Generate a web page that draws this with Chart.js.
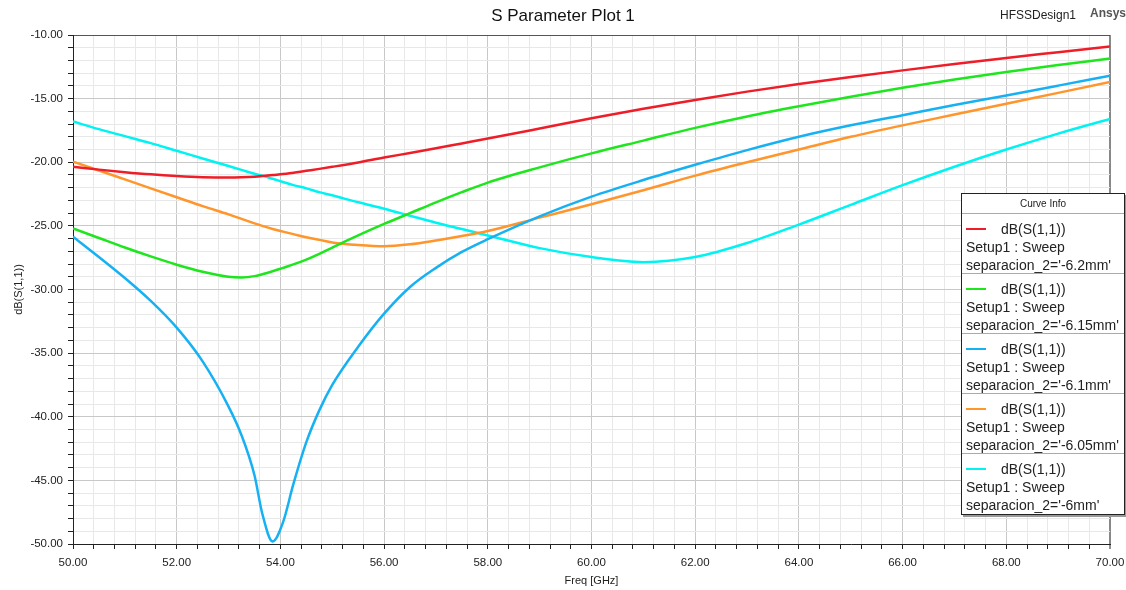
<!DOCTYPE html>
<html>
<head>
<meta charset="utf-8">
<script src="https://cdn.jsdelivr.net/npm/chart.js@4.4.0/dist/chart.umd.min.js"></script>
<style>
  body { margin: 0; background: #fff; font-family: "Liberation Sans", Arial, sans-serif; }
  #wrap { position: relative; width: 1126px; height: 590px; overflow: hidden; }
  #chart { position: absolute; left: 0; top: 0; }
  #title { position: absolute; left: 0; top: 6px; width: 1126px; text-align: center; font-size: 17px; color: #111; }
  #design { position: absolute; left: 1000px; top: 8px; font-size: 12px; color: #222; }
  #brand { position: absolute; left: 1090px; top: 6px; font-size: 12px; font-weight: bold; color: #555; }
  #legend { position: absolute; left: 961px; top: 193px; width: 162px; background: #fff;
            border: 1px solid #222; box-shadow: 2px 2px 0 #999; }
  #legend .head { height: 19px; line-height: 19px; font-size: 10px; text-align: center; color: #222;
                  border-bottom: 1px solid #aaa; }
  #legend .item { padding: 6px 0 0 4px; box-sizing: border-box; height: 60px;
                  font-size: 14px; line-height: 18px; color: #222; border-bottom: 1px solid #aaa; }
  #legend .item:last-child { border-bottom: none; }
  #legend .sw { display: inline-block; width: 20px; height: 2px; vertical-align: 4px; margin-right: 15px; }
</style>
</head>
<body>
<div id="wrap">
  <canvas id="chart" width="1126" height="590"></canvas>
  <div id="title">S Parameter Plot 1</div>
  <div id="design">HFSSDesign1</div>
  <div id="brand">Ansys</div>
  <div id="legend"><div class="head">Curve Info</div></div>
</div>
<script>
// frequency points (GHz), finer around the deep dip
const freq = [50, 50.5, 51, 51.5, 52, 52.5, 53, 53.25, 53.5, 53.65, 53.85, 54.05, 54.25, 54.5, 54.75,
  55, 55.5, 56, 56.5, 57, 57.5, 58, 59, 60, 61, 62, 63, 64, 65, 66, 67, 68, 69, 70];

// dB(S(1,1)) for each sweep value
const s11_620 = [-20.35, -20.58, -20.78, -20.95, -21.08, -21.17, -21.2, -21.18, -21.13, -21.08, -21.0, -20.93, -20.82, -20.67, -20.52,
  -20.36, -20.02, -19.63, -19.27, -18.9, -18.52, -18.14, -17.35, -16.55, -15.8, -15.1, -14.45, -13.85, -13.3, -12.78, -12.28, -11.8, -11.35, -10.9];
const s11_615 = [-25.2, -25.95, -26.7, -27.4, -28.05, -28.6, -29.0, -29.05, -28.95, -28.8, -28.57, -28.3, -28.03, -27.65, -27.2,
  -26.7, -25.75, -24.85, -24.0, -23.15, -22.35, -21.6, -20.4, -19.3, -18.3, -17.3, -16.4, -15.6, -14.85, -14.15, -13.5, -12.9, -12.35, -11.85];
const s11_610 = [-25.85, -27.45, -29.1, -30.9, -33.0, -35.65, -39.2, -41.45, -44.6, -47.6, -49.8, -48.3, -45.3, -42.0, -39.5,
  -37.5, -34.5, -31.9, -29.8, -28.3, -27.05, -26.05, -24.25, -22.7, -21.4, -20.2, -19.05, -18.0, -17.1, -16.3, -15.5, -14.75, -13.98, -13.2];
const s11_605 = [-19.95, -20.65, -21.35, -22.05, -22.75, -23.45, -24.1, -24.45, -24.8, -25.0, -25.25, -25.45, -25.65, -25.9, -26.1,
  -26.3, -26.5, -26.6, -26.45, -26.15, -25.8, -25.4, -24.35, -23.3, -22.2, -21.05, -20.0, -19.0, -18.0, -17.1, -16.25, -15.4, -14.55, -13.7];
const s11_600 = [-16.8, -17.4, -17.95, -18.5, -19.1, -19.7, -20.3, -20.6, -20.9, -21.05, -21.3, -21.55, -21.8, -22.05, -22.35,
  -22.6, -23.15, -23.65, -24.2, -24.75, -25.25, -25.75, -26.75, -27.45, -27.85, -27.45, -26.35, -24.9, -23.35, -21.8, -20.35, -19.0, -17.75, -16.6];

const seriesValues = [s11_620, s11_615, s11_610, s11_605, s11_600];
const seriesParams = ["separacion_2='-6.2mm'", "separacion_2='-6.15mm'", "separacion_2='-6.1mm'",
  "separacion_2='-6.05mm'", "separacion_2='-6mm'"];
const seriesColors = ["#ee1d27", "#1de61d", "#16b1f2", "#ff952b", "#00f3f3"];
const curveName = "dB(S(1,1))";
const setupName = "Setup1 : Sweep";

// tick labels
const xTickLabels = ["50.00", "52.00", "54.00", "56.00", "58.00", "60.00", "62.00", "64.00", "66.00", "68.00", "70.00"];
const yTickLabels = ["-10.00", "-15.00", "-20.00", "-25.00", "-30.00", "-35.00", "-40.00", "-45.00", "-50.00"];

// minor tick positions: 0.4 GHz and 1 dB
const xTicks = [];
for (let i = 0; i <= 50; i++) xTicks.push(+(50 + i * 0.4).toFixed(1));
const yTicks = [];
for (let i = 0; i <= 40; i++) yTicks.push(-50 + i);

function labelFor(list, v) {
  const hit = list.find((l) => Math.abs(parseFloat(l) - v) < 1e-6);
  return hit === undefined ? "" : hit;
}

const tickFont = { family: "Liberation Sans", size: 11.5 };

const datasets = seriesValues.map((vals, i) => ({
  label: seriesParams[i],
  data: freq.map((f, j) => ({ x: f, y: vals[j] })),
  borderColor: seriesColors[i],
  backgroundColor: seriesColors[i],
  borderWidth: 2.5,
  pointRadius: 0,
  cubicInterpolationMode: "monotone",
}));

const chart = new Chart(document.getElementById("chart"), {
  type: "line",
  data: { datasets: datasets },
  options: {
    responsive: false,
    animation: false,
    layout: { padding: { top: 35, right: 16, left: 0, bottom: 0 } },
    plugins: { legend: { display: false }, tooltip: { enabled: false } },
    scales: {
      x: {
        type: "linear",
        min: 50,
        max: 70,
        afterFit: (scale) => {
          scale.height = 46;
          // keep the plot edge fixed, labels may overhang into the padding
          scale.paddingLeft = 0;
          scale.paddingRight = 0;
        },
        afterBuildTicks: (scale) => { scale.ticks = xTicks.map((v) => ({ value: v })); },
        ticks: {
          autoSkip: false,
          maxRotation: 0,
          padding: 7,
          color: "#222",
          font: tickFont,
          callback: (v) => labelFor(xTickLabels, v),
        },
        grid: {
          color: (ctx) => {
            const v = ctx.tick.value;
            if (Math.abs(v - 70) < 1e-6) return "#888";
            return labelFor(xTickLabels, v) ? "#c8c8c8" : "#e8e8e8";
          },
          lineWidth: (ctx) => (Math.abs(ctx.tick.value - 70) < 1e-6 ? 2 : 1),
          tickColor: "#222",
          tickWidth: 1,
          tickLength: 5,
        },
        border: { color: "#222", width: 1 },
        title: {
          display: true,
          text: "Freq [GHz]",
          color: "#222",
          font: { family: "Liberation Sans", size: 11 },
          padding: { top: 0, bottom: 2 },
        },
      },
      y: {
        type: "linear",
        min: -50,
        max: -10,
        afterFit: (scale) => {
          scale.width = 73;
          scale.paddingTop = 0;
          scale.paddingBottom = 0;
        },
        afterBuildTicks: (scale) => { scale.ticks = yTicks.map((v) => ({ value: v })); },
        ticks: {
          autoSkip: false,
          padding: 5,
          color: "#222",
          font: tickFont,
          callback: (v) => labelFor(yTickLabels, v),
        },
        grid: {
          color: (ctx) => {
            const v = ctx.tick.value;
            if (v === -10) return "#555";
            return labelFor(yTickLabels, v) ? "#c8c8c8" : "#e8e8e8";
          },
          tickColor: "#222",
          tickWidth: 1,
          tickLength: 5,
        },
        border: { color: "#222", width: 1 },
        title: {
          display: true,
          text: "dB(S(1,1))",
          color: "#222",
          font: { family: "Liberation Sans", size: 11 },
          padding: { top: 12, bottom: 0 },
        },
      },
    },
  },
});

// curve info box from the chart's datasets
const legendBox = document.getElementById("legend");
chart.data.datasets.forEach((ds) => {
  const item = document.createElement("div");
  item.className = "item";
  item.innerHTML = `<div><span class="sw" style="background:${ds.borderColor}"></span>${curveName}</div>
                    <div>${setupName}</div>
                    <div>${ds.label}</div>`;
  legendBox.appendChild(item);
});
</script>
</body>
</html>
